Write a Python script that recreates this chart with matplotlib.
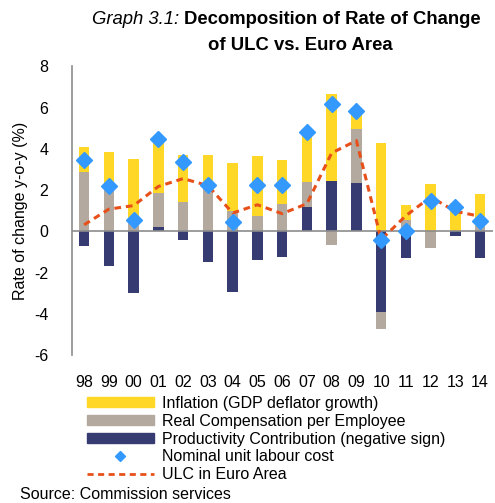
import numpy as np
import matplotlib
matplotlib.use("Agg")
import matplotlib.pyplot as plt
from matplotlib.lines import Line2D
from matplotlib.patches import Patch

plt.rcParams["font.family"] = ["Liberation Sans", "DejaVu Sans"]
plt.rcParams["axes.unicode_minus"] = False

# Data
years = ["98", "99", "00", "01", "02", "03", "04", "05", "06",
         "07", "08", "09", "10", "11", "12", "13", "14"]
inflation = [1.23, 1.70, 3.03, 2.46, 2.31, 1.48, 2.35, 2.91, 2.14,
             2.44, 4.25, 0.85, 4.29, 0.72, 2.30, 1.40, 1.55]
real_comp = [2.86, 2.17, 0.50, 1.67, 1.41, 2.22, 0.97, 0.73, 1.34,
             1.24, -0.68, 2.59, -0.78, 0.57, -0.81, 0.0, 0.25]
productivity = [-0.70, -1.70, -3.00, 0.19, -0.42, -1.47, -2.94, -1.41, -1.26,
                1.17, 2.43, 2.36, -3.93, -1.29, 0.0, -0.24, -1.29]
nominal_ulc = [3.45, 2.18, 0.53, 4.48, 3.37, 2.23, 0.44, 2.23, 2.25,
               4.82, 6.17, 5.83, -0.44, 0.02, 1.49, 1.17, 0.52]
ulc_euro = [0.32, 1.08, 1.25, 2.18, 2.56, 2.22, 0.89, 1.29, 0.86,
            1.34, 3.80, 4.40, -0.40, 0.76, 1.67, 0.97, 0.73]

c_infl = "#FFD726"
c_real = "#B3A99F"
c_prod = "#363C72"
c_ulc = "#3399FF"
c_euro = "#E8501A"

fig = plt.figure(figsize=(4.95, 5.03), dpi=100)
ax = fig.add_axes([0.145, 0.294, 0.85, 0.574])

x = np.arange(len(years))
w = 0.42

# stack each series: positives upward from 0, negatives downward from 0
pos_base = np.zeros(len(years))
neg_base = np.zeros(len(years))
for vals, col in [(productivity, c_prod), (real_comp, c_real), (inflation, c_infl)]:
    v = np.array(vals)
    bottoms = np.where(v >= 0, pos_base, neg_base)
    ax.bar(x, v, w, bottom=bottoms, color=col, zorder=2)
    pos_base = pos_base + np.clip(v, 0, None)
    neg_base = neg_base + np.clip(v, None, 0)

ax.axhline(0, color="#8C8C8C", lw=1.2, zorder=3)
ax.plot(x, ulc_euro, color=c_euro, lw=2.2, ls=(0, (2.2, 1.6)), zorder=4)
ax.plot(x, nominal_ulc, ls="none", marker="D", ms=8, color=c_ulc, zorder=5)

ax.set_xlim(-0.5, len(years) - 0.5)
ax.set_ylim(-6, 8)
ax.set_yticks(range(-6, 9, 2))
ax.set_xticks(x)
ax.set_xticklabels(years)
ax.tick_params(axis="both", length=0, labelsize=11.5)
ax.tick_params(axis="x", pad=14)
ax.tick_params(axis="y", pad=17)
for s in ["top", "right", "bottom"]:
    ax.spines[s].set_visible(False)
ax.spines["left"].set_color("#8C8C8C")
ax.spines["left"].set_linewidth(1.2)
ax.set_ylabel("Rate of change y-o-y (%)", fontsize=11.5, labelpad=4)

fig.text(0.372, 0.962, "Graph 3.1: ", fontsize=13.3, style="italic",
         ha="right", va="center")
fig.text(0.372, 0.962, "Decomposition of Rate of Change", fontsize=13.3,
         fontweight="bold", ha="left", va="center")
fig.text(0.606, 0.91, "of ULC vs. Euro Area", fontsize=13.3,
         fontweight="bold", ha="center", va="center")

handles = [
    Patch(color=c_infl),
    Patch(color=c_real),
    Patch(color=c_prod),
    Line2D([], [], ls="none", marker="D", ms=5, color=c_ulc),
    Line2D([], [], color=c_euro, lw=2, ls=(0, (2.2, 1.6))),
]
labels = ["Inflation (GDP deflator growth)",
          "Real Compensation per Employee",
          "Productivity Contribution (negative sign)",
          "Nominal unit labour cost",
          "ULC in Euro Area"]
fig.legend(handles, labels, loc="upper left", bbox_to_anchor=(0.175, 0.213),
           frameon=False, fontsize=11.5, handlelength=4.2, handleheight=0.6,
           handletextpad=0.5, labelspacing=0.18, borderpad=0, borderaxespad=0)

fig.text(0.04, 0.016, "Source: Commission services", fontsize=11.5, va="center")

fig.savefig("out.png", dpi=100)
